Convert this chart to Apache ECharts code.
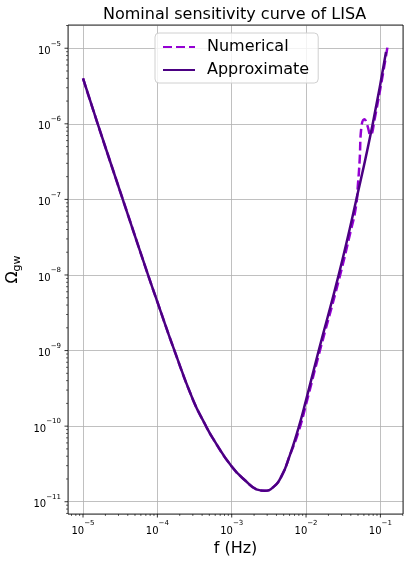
<!DOCTYPE html>
<html><head><meta charset="utf-8">
<script src="https://cdn.jsdelivr.net/npm/echarts@6/dist/echarts.min.js"></script>
<style>html,body{margin:0;padding:0;background:#fff}#c{width:409px;height:561px}</style>
</head><body><div id="c"></div>
<script>
const titleText = 'Nominal sensitivity curve of LISA';
const seriesNames = ['Numerical', 'Approximate'];
const xLabel = 'f (Hz)';
const xRange = [6.28e-6, 0.2014];
const yRange = [6.88e-12, 2.03e-5];

// Approximate curve
const approxF = [1.0e-5, 1.556e-5, 3.39e-5, 7.41e-5, 1.0e-4, 1.675e-4, 3.02e-4, 4.43e-4, 5.61e-4,
  1.0e-3, 1.585e-3, 2.15e-3, 2.78e-3, 3.59e-3, 4.66e-3, 6.03e-3, 7.94e-3, 1.0e-2, 1.48e-2,
  2.77e-2, 4.79e-2, 7.94e-2, 0.119];
const approxOmega = [3.98e-6, 1.035e-6, 1.035e-7, 1.035e-8, 4.41e-9, 1.035e-9, 2.22e-10, 1.035e-10, 6.84e-11,
  2.92e-11, 1.84e-11, 1.46e-11, 1.40e-11, 1.55e-11, 2.16e-11, 4.07e-11, 9.55e-11, 2.21e-10, 1.0e-9,
  1.035e-8, 1.035e-7, 1.035e-6, 8.9e-6];

// Numerical curve
const numF = [1.0e-5, 1.556e-5, 3.39e-5, 7.41e-5, 1.0e-4, 1.675e-4, 3.02e-4, 4.43e-4, 5.61e-4,
  1.0e-3, 1.585e-3, 2.15e-3, 2.78e-3, 3.59e-3, 4.66e-3, 6.03e-3, 7.94e-3, 1.0e-2, 1.48e-2,
  2.77e-2, 3.98e-2, 4.68e-2, 5.0e-2, 5.26e-2, 5.55e-2, 6.1e-2, 6.64e-2, 7.35e-2, 8.32e-2, 0.1245];
const numOmega = [3.98e-6, 1.035e-6, 1.035e-7, 1.035e-8, 4.41e-9, 1.035e-9, 2.22e-10, 1.035e-10, 6.84e-11,
  2.92e-11, 1.84e-11, 1.46e-11, 1.40e-11, 1.55e-11, 2.16e-11, 4.07e-11, 8.5e-11, 1.95e-10, 8.7e-10,
  8.7e-9, 3.8e-8, 7.9e-8, 1.62e-7, 3.3e-7, 9.1e-7, 1.15e-6, 9.7e-7, 7.1e-7, 1.12e-6, 1.035e-5];

const FONT = 'DejaVu Sans';
const zip = (a, b) => a.map((v, i) => [v, b[i]]);

function powLabel(v) {
  const l = Math.log10(v);
  const e = Math.round(l);
  if (Math.abs(l - e) > 1e-6) return '';
  return '{b|10}{e|' + (e < 0 ? '\u2212' + (-e) : e) + '}';
}
const labelRich = {
  b: { fontSize: 10, fontFamily: FONT, color: '#000', lineHeight: 16, verticalAlign: 'bottom' },
  e: { fontSize: 7, fontFamily: FONT, color: '#000', lineHeight: 8, verticalAlign: 'top' }
};

const chart = echarts.init(document.getElementById('c'), null, { renderer: 'canvas' });

function renderTicks(params, api) {
  const cs = params.coordSys;
  const children = [];
  const bottom = cs.y + cs.height, left = cs.x;
  for (let k = -7; k <= 1; k++) {
    for (let m = 1; m <= 9; m++) {
      const v = m * Math.pow(10, k);
      const major = m === 1;
      const len = major ? 3.5 : 2;
      const lw = major ? 0.8 : 0.6;
      if (v >= xRange[0] && v <= xRange[1]) {
        const x = api.coord([v, yRange[0]])[0];
        children.push({ type: 'line', shape: { x1: x, y1: bottom, x2: x, y2: bottom + len },
          style: { stroke: '#000', lineWidth: lw } });
      }
      const w = m * Math.pow(10, k - 6);
      if (w >= yRange[0] && w <= yRange[1]) {
        const y = api.coord([xRange[0], w])[1];
        children.push({ type: 'line', shape: { x1: left, y1: y, x2: left - len, y2: y },
          style: { stroke: '#000', lineWidth: lw } });
      }
    }
  }
  return { type: 'group', children };
}

chart.setOption({
  animation: false,
  backgroundColor: '#fff',
  title: {
    text: titleText, left: 103, top: 7, padding: 0,
    textStyle: { fontFamily: FONT, fontSize: 16, fontWeight: 'normal', color: '#000' }
  },
  legend: {
    data: seriesNames, orient: 'vertical', left: 155, top: 33,
    padding: [5, 9, 4, 7], itemWidth: 32, itemHeight: 14, itemGap: 5,
    itemStyle: { opacity: 0 },
    textStyle: { fontFamily: FONT, fontSize: 16, color: '#000', lineHeight: 18, padding: [0, 0, 0, 7] },
    borderColor: '#d0d0d0', borderWidth: 1, borderRadius: 4,
    backgroundColor: 'rgba(255,255,255,0.8)'
  },
  grid: {
    left: 68, right: 6, top: 25, bottom: 47, show: true, outerBoundsMode: 'none', containLabel: false,
    borderColor: '#000', borderWidth: 0.8, backgroundColor: 'transparent', z: 5
  },
  xAxis: {
    type: 'log', logBase: 10, min: xRange[0], max: xRange[1],
    name: xLabel, nameLocation: 'middle', nameGap: 24,
    nameTextStyle: { fontFamily: FONT, fontSize: 16, color: '#000' },
    axisLine: { show: false }, axisTick: { show: false },
    axisLabel: { formatter: powLabel, rich: labelRich, margin: 6, showMinLabel: false, showMaxLabel: false },
    splitLine: { show: true, lineStyle: { color: '#b0b0b0', width: 0.8 } },
    minorTick: { show: false }, minorSplitLine: { show: false }
  },
  yAxis: {
    type: 'log', logBase: 10, min: yRange[0], max: yRange[1],
    name: '{o|\u03A9}{s|gw}', nameLocation: 'middle', nameGap: 45, nameRotate: 90,
    nameTextStyle: {
      rich: {
        o: { fontFamily: FONT, fontSize: 16, color: '#000', lineHeight: 18, verticalAlign: 'top' },
        s: { fontFamily: FONT, fontSize: 11, color: '#000', lineHeight: 8, verticalAlign: 'bottom' }
      }
    },
    axisLine: { show: false }, axisTick: { show: false },
    axisLabel: { formatter: powLabel, rich: labelRich, margin: 7, showMinLabel: false, showMaxLabel: false },
    splitLine: { show: true, lineStyle: { color: '#b0b0b0', width: 0.8 } },
    minorTick: { show: false }, minorSplitLine: { show: false }
  },
  series: [
    {
      name: seriesNames[0], type: 'line', data: zip(numF, numOmega),
      symbol: 'none', smooth: 0.5, z: 2,
      lineStyle: { color: '#9400D3', width: 2.5, type: [9, 4] },
      itemStyle: { color: '#9400D3' }
    },
    {
      name: seriesNames[1], type: 'line', data: zip(approxF, approxOmega),
      symbol: 'none', smooth: 0.5, z: 3,
      lineStyle: { color: '#4B0082', width: 2.5 },
      itemStyle: { color: '#4B0082' }
    },
    {
      type: 'custom', silent: true, z: 6, clip: false,
      data: [[1e-3, 1e-8]], renderItem: renderTicks
    }
  ]
});
</script></body></html>
